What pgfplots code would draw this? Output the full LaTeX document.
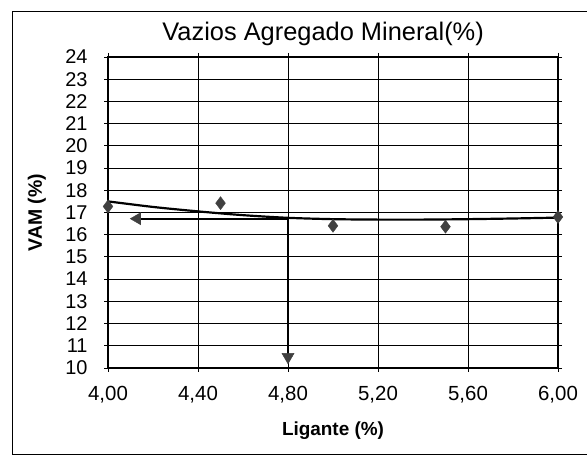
\documentclass[border=0pt]{standalone}
\usepackage{pgfplots}
\pgfplotsset{compat=1.18}
\usepackage{fontspec}
\setmainfont{Liberation Sans}
\definecolor{mk}{HTML}{404040}
\begin{document}
\begin{tikzpicture}[x=1bp,y=1bp]
\begin{axis}[
 at={(108bp,89bp)}, anchor=south west,
 scale only axis, width=450bp, height=311bp,
 xmin=4, xmax=6, ymin=10, ymax=24,
 xtick={4,4.4,4.8,5.2,5.6,6}, ytick={10,11,...,24},
 grid=major, major grid style={black, line width=1pt},
 axis line style={black, line width=1.4pt},
 tick align=outside, major tick length=4bp, tick style={black, line width=0.9pt},
 xticklabel style={/pgf/number format/.cd, fixed, fixed zerofill, precision=2, use comma, assume math mode=true, /tikz/.cd, font=\fontsize{20.5}{24}\selectfont, yshift=-11bp},
 yticklabel style={/pgf/number format/assume math mode=true, font=\fontsize{20}{24}\selectfont, xshift=-13bp},
 title={Vazios Agregado Mineral(\%)},
 title style={at={(axis description cs:0.478,1.055)}, anchor=center, font=\fontsize{25.5}{30}\selectfont},
 xlabel={Ligante (\%)},
 xlabel style={at={(axis description cs:0.5,-0.2)}, anchor=center, font=\bfseries\fontsize{19}{22}\selectfont},
 ylabel={VAM (\%)},
 ylabel style={at={(axis description cs:-0.158,0.5)}, anchor=center, rotate=0, font=\bfseries\fontsize{19.5}{22}\selectfont},
 clip=false,
]
% trend line
\addplot[black, line width=2.2pt, smooth, mark=none] coordinates {
 (4.0,17.5) (4.2,17.25) (4.4,17.05) (4.6,16.88) (4.8,16.76) (5.0,16.7)
 (5.2,16.68) (5.4,16.68) (5.6,16.7) (5.8,16.73) (6.0,16.77)};
% data points
\addplot[only marks, mark=diamond*, mark size=6.5bp, mark options={fill=mk, draw=mk}] coordinates {
 (4.0,17.27) (4.5,17.42) (5.0,16.4) (5.5,16.36) (6.0,16.8)};
% arrows
\addplot[black, line width=1.8pt, mark=none] coordinates {(4.8,16.72) (4.8,10.3)};
\addplot[black, line width=1.8pt, mark=none] coordinates {(4.8,16.72) (4.14,16.72)};
\addplot[only marks, mark=triangle*, mark size=7bp, mark options={fill=mk, draw=mk, rotate=180}] coordinates {(4.8,10.5)};
\addplot[only marks, mark=triangle*, mark size=7bp, mark options={fill=mk, draw=mk, rotate=90}] coordinates {(4.13,16.72)};
\end{axis}
\draw[line width=1pt] (600,445) -- (12,445) -- (12,2) -- (600,2);
\pgfresetboundingbox
\path[use as bounding box] (0,0) rectangle (587,457);
\end{tikzpicture}
\end{document}
